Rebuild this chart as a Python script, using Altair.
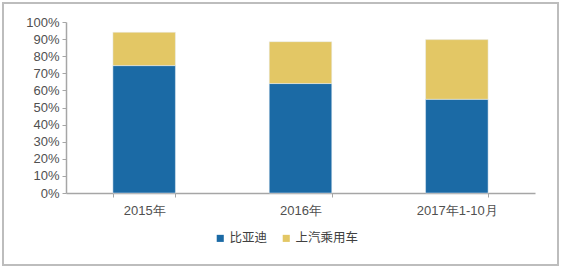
import altair as alt
import pandas as pd

categories = ["2015年", "2016年", "2017年1-10月"]
series_names = ["比亚迪", "上汽乘用车"]
byd = [0.745, 0.640, 0.548]
saic = [0.195, 0.245, 0.349]
colors = ["#1B6AA5", "#E3C765"]

rows = []
for i, c in enumerate(categories):
    rows.append({"cat": c, "series": series_names[0], "value": byd[i], "order": 0})
    rows.append({"cat": c, "series": series_names[1], "value": saic[i], "order": 1})
df = pd.DataFrame(rows)

W, H = 469, 171
PL, PT = 66, 22

bars = alt.Chart(df).mark_bar(stroke="#e8eef5", strokeWidth=0.5).encode(
    x=alt.X("cat:N", sort=categories, title=None,
            scale=alt.Scale(paddingInner=0.6, paddingOuter=0.3),
            axis=alt.Axis(labelAngle=0, labelFont="Liberation Sans", labelFontSize=13,
                          labelColor="#505050", domainColor="#a6a6a6", tickColor="#a6a6a6",
                          tickBand="extent", tickSize=4, labelPadding=7, domainWidth=1.5)),
    y=alt.Y("value:Q", stack="zero", title=None,
            scale=alt.Scale(domain=[0, 1], nice=False),
            axis=alt.Axis(format=".0%", values=[i / 10 for i in range(11)], grid=False,
                          labelFont="Liberation Sans", labelFontSize=13, labelColor="#505050",
                          domainColor="#a6a6a6", tickColor="#a6a6a6", tickSize=4,
                          labelPadding=3, domainWidth=1.5)),
    color=alt.Color("series:N", sort=series_names,
                    scale=alt.Scale(domain=series_names, range=colors),
                    legend=alt.Legend(title=None, orient="none", direction="horizontal",
                                      legendX=215 - PL - 1, legendY=232 - PT,
                                      symbolType="square", symbolSize=50, symbolStrokeWidth=0,
                                      labelFont="Noto Sans CJK SC", labelFontSize=12.5,
                                      labelColor="#404040", columnPadding=12, labelOffset=3)),
    order=alt.Order("order:Q"),
)

frame = alt.Chart(pd.DataFrame({"k": [0]})).mark_rect(
    fill=None, stroke="#bdbdbd", strokeWidth=2
).encode(
    x=alt.value(3 - PL), x2=alt.value(558 - PL),
    y=alt.value(3 - PT), y2=alt.value(265 - PT),
)

chart = alt.layer(frame, bars).properties(
    width=W, height=H,
    autosize=alt.AutoSizeParams(type="none"),
    padding={"left": PL, "top": PT, "right": 563 - PL - W, "bottom": 269 - PT - H},
    background="white",
).configure_view(stroke=None)

chart.save("out.html", embed_options={"renderer": "svg", "actions": False})
